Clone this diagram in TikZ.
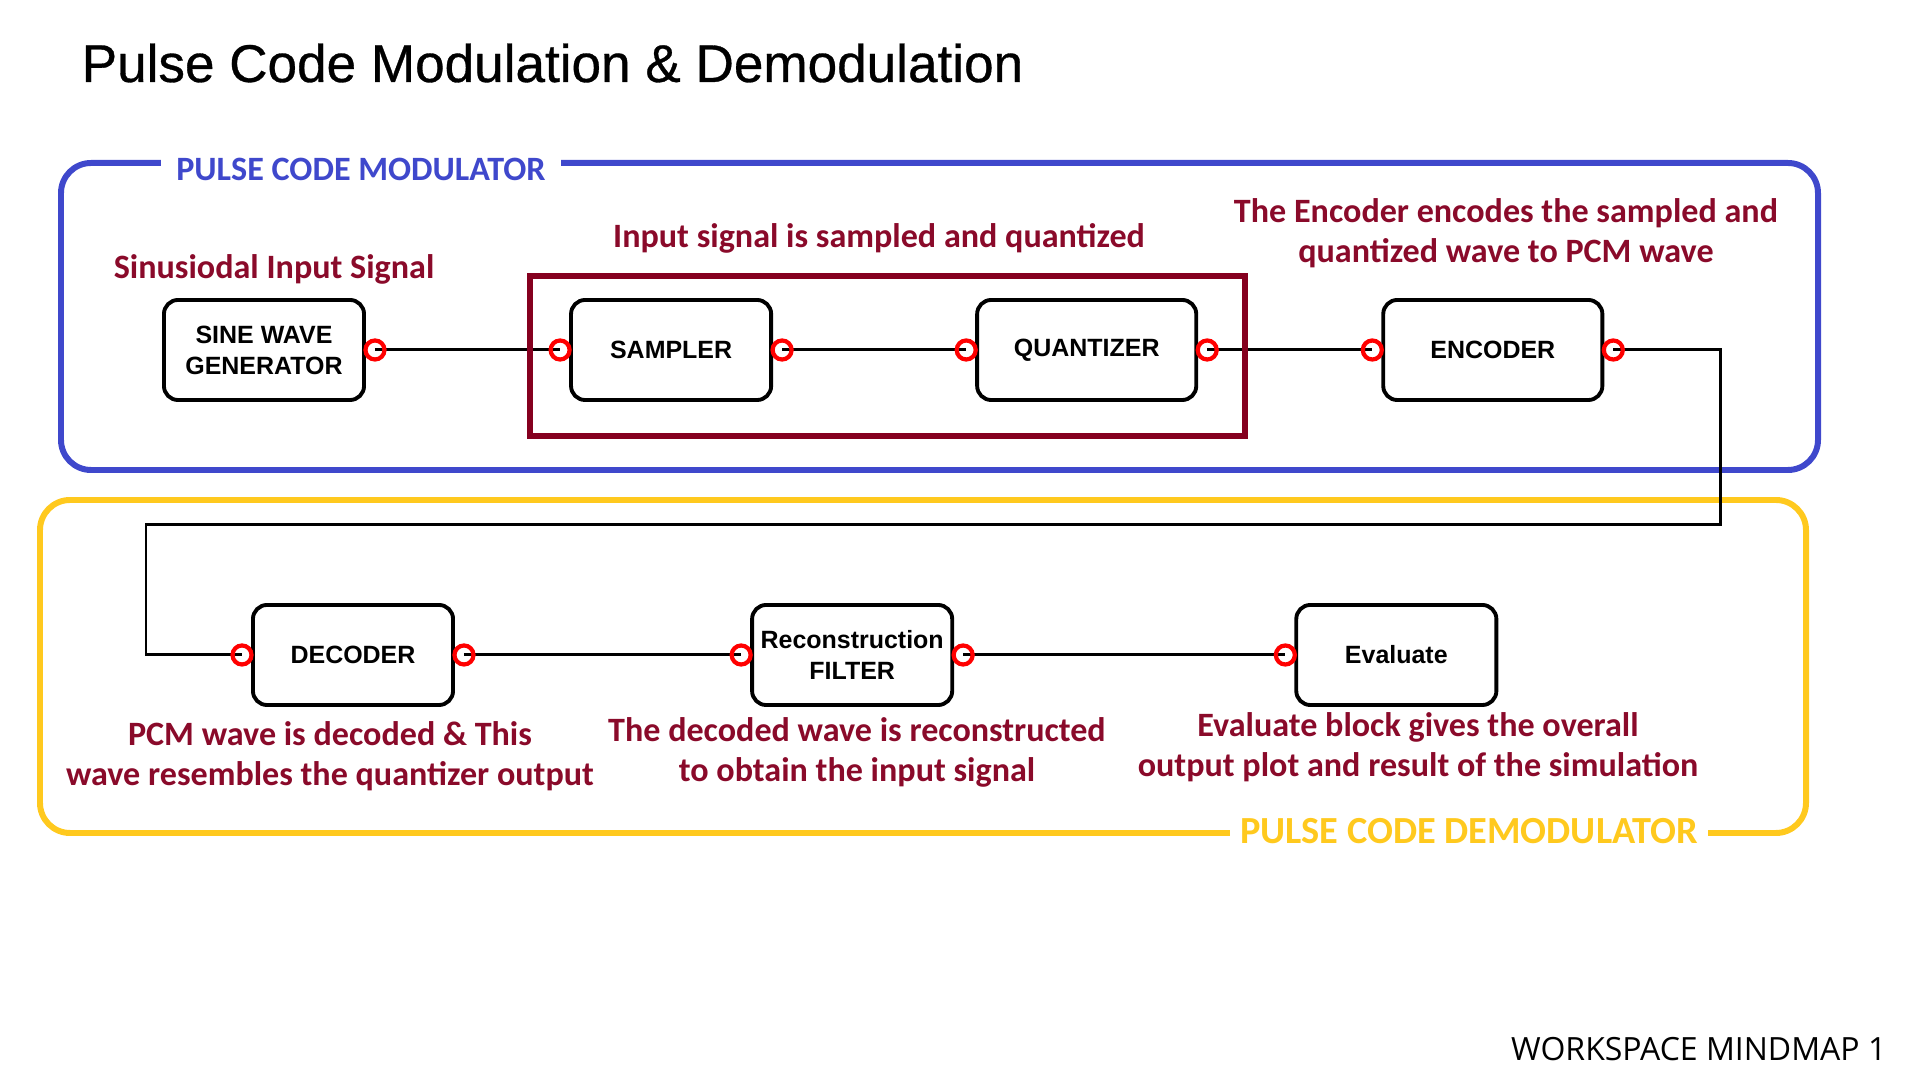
\documentclass[tikz,border=0pt]{standalone}
\usepackage{fontspec}
\setmainfont{Liberation Sans}
\newfontfamily\titlefont[FakeBold=0.6]{Liberation Sans}
\newfontfamily\notefont{Carlito}
\newfontfamily\footfont{Open Sans}
\usetikzlibrary{positioning,calc,backgrounds}
\definecolor{pcmblue}{HTML}{3F48CC}
\definecolor{pcmgold}{HTML}{FFC91E}
\definecolor{pcmmaroon}{HTML}{85001F}
\definecolor{pcmnote}{HTML}{8A0A2A}

\begin{document}
\begin{tikzpicture}[x=0.01cm,y=-0.01cm, node distance=2.03cm, every node/.style={align=center}]
\tikzset{blk/.style={draw=black,line width=1.1pt,rounded corners=4pt,fill=white,minimum width=2cm,minimum height=1cm,inner sep=1pt,font=\bfseries\fontsize{7.1}{8.8}\selectfont},
port/.style={circle,draw=red,line width=1.2pt,minimum size=0.19cm,inner sep=0pt},
note/.style={text=pcmnote,font=\notefont\bfseries\fontsize{9.7}{11.4}\selectfont},
tag/.style={fill=white,inner xsep=0.15cm,font=\notefont\bfseries\fontsize{9.7}{11.4}\selectfont},
wire/.style={line width=0.85pt}}
\useasboundingbox (0,0) rectangle (1920,1080);
\node[anchor=base west,inner sep=0pt,font=\titlefont\fontsize{15.1}{18}\selectfont] (ttl) at (81,82) {Pulse Code Modulation \& Demodulation};
% modulator blocks
\node[blk] (sg) at (264,350) {SINE WAVE\\GENERATOR};
\node[blk,right=of sg] (smp) {SAMPLER};
\node[blk,minimum width=2.19cm,right=2.02cm of smp] (qnt) {QUANTIZER};
\node[blk,minimum width=2.19cm,right=1.83cm of qnt] (enc) {ENCODER};
% demodulator blocks
\node[blk] (dec) at (353,655) {DECODER};
\node[blk,right=2.95cm of dec] (rf) {Reconstruction\\FILTER};
\node[blk,right=3.4cm of rf] (ev) {Evaluate};
% ports
\node[port] (sg-o) at ($(sg.east)+(9,0)$) {};
\node[port] (smp-i) at ($(smp.west)+(-9,0)$) {};
\node[port] (smp-o) at ($(smp.east)+(9,0)$) {};
\node[port] (qnt-i) at ($(qnt.west)+(-9,0)$) {};
\node[port] (qnt-o) at ($(qnt.east)+(9,0)$) {};
\node[port] (enc-i) at ($(enc.west)+(-9,0)$) {};
\node[port] (enc-o) at ($(enc.east)+(9,0)$) {};
\node[port] (dec-i) at ($(dec.west)+(-9,0)$) {};
\node[port] (dec-o) at ($(dec.east)+(9,0)$) {};
\node[port] (rf-i) at ($(rf.west)+(-9,0)$) {};
\node[port] (rf-o) at ($(rf.east)+(9,0)$) {};
\node[port] (ev-i) at ($(ev.west)+(-9,0)$) {};
% notes
\node[note] (sgn) at (274,269) {Sinusiodal Input Signal};
\node[note] (smpn) at (879,238) {Input signal is sampled and quantized};
\node[note] (encn) at (1506,233) {The Encoder encodes the sampled and\\quantized wave to PCM wave};
\node[note] (decn) at (330,756) {PCM wave is decoded \& This\\wave resembles the quantizer output};
\node[note] (rfn) at (857,752) {The decoded wave is reconstructed\\to obtain the input signal};
\node[note] (evn) at (1418,747) {Evaluate block gives the overall\\output plot and result of the simulation};
% frames
\begin{scope}[on background layer]
\draw[pcmblue,line width=1.7pt,rounded corners=0.3cm] (61,163) rectangle (1818,470);
\draw[pcmgold,line width=1.7pt,rounded corners=0.3cm] (40,500) rectangle (1806,833);
\end{scope}
\node[tag,text=pcmblue] (modl) at (361,169) {PULSE CODE MODULATOR};
\node[tag,text=pcmgold,inner xsep=0.1cm,font=\notefont\bfseries\fontsize{10.9}{12}\selectfont] (deml) at (1469,831) {PULSE CODE DEMODULATOR};
\node[anchor=base east,inner sep=0pt,font=\footfont\fontsize{9.1}{11}\selectfont] (ws) at (1887,1061) {WORKSPACE MINDMAP 1};
% wires
\coordinate (fbr) at (1720,525);
\coordinate (fbl) at (146,525);
\begin{scope}[on background layer]
\draw[wire] (sg-o.center) -- (smp-i.center);
\draw[wire] (smp-o.center) -- (qnt-i.center);
\draw[wire] (qnt-o.center) -- (enc-i.center);
\draw[wire] (enc-o.center) -| (fbr) -- (fbl) |- (dec-i.center);
\draw[wire] (dec-o.center) -- (rf-i.center);
\draw[wire] (rf-o.center) -- (ev-i.center);
\end{scope}
\draw[pcmmaroon,line width=1.9pt] (530,276) rectangle (1245,436);
\end{tikzpicture}
\end{document}
